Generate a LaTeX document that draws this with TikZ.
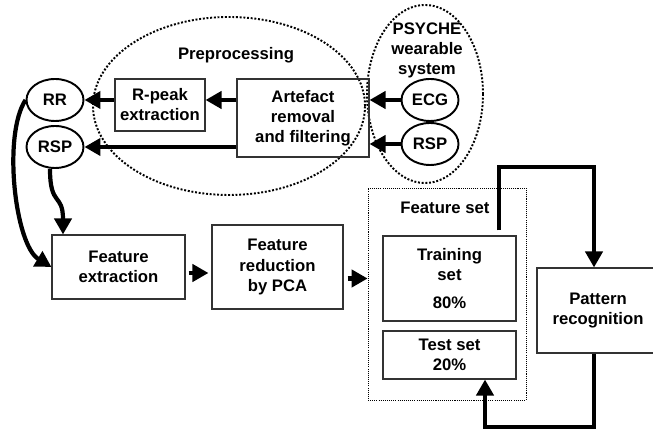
\documentclass[tikz,border=0pt]{standalone}
\usepackage{fontspec}
\setmainfont{Liberation Sans}
\usetikzlibrary{shapes.geometric, arrows.meta}

\begin{document}
\begin{tikzpicture}[
        font=\bfseries\fontsize{9.5}{11.4}\selectfont,
        box/.style={draw=black!80, line width=0.6pt, align=center, inner sep=0pt},
        sig/.style={draw, ellipse, line width=1.1pt, minimum width=1.14cm, minimum height=0.84cm, inner sep=0pt},
        flow/.style={line width=2.4pt, -{Triangle[length=0.32cm, width=0.34cm]}},
        group/.style={line width=1.1pt, dash pattern=on 1.1pt off 1pt}
    ]
        \useasboundingbox (0, 0) rectangle (13.06, 8.70);

        \coordinate (pre) at (4.58, 6.58);
        \coordinate (psy) at (8.50, 6.82);
        \coordinate (loopT) at (11.88, 5.36);
        \coordinate (loopB) at (11.88, 0.16);

        \draw[group] (pre) ellipse [x radius=2.72, y radius=1.78];
        \draw[group] (psy) ellipse [x radius=1.16, y radius=1.78];

        \node (pretext) at (4.72, 7.60) {Preprocessing};
        \node[align=center] (psytext) at (8.54, 7.70) {PSYCHE\\wearable\\system};

        \node[sig] (ecg)  at (8.60, 6.70) {ECG};
        \node[sig] (rspr) at (8.60, 5.82) {RSP};
        \node[sig] (rr)   at (1.10, 6.70) {RR};
        \node[sig] (rspl) at (1.10, 5.76) {RSP};

        \node[box, minimum width=1.80cm, minimum height=1.04cm] (rpeak) at (3.20, 6.60) {R-peak\\extraction};
        \node[box, minimum width=2.64cm, minimum height=1.56cm] (artf) at (6.06, 6.34) {Artefact\\removal\\and filtering};

        \node[box, minimum width=2.66cm, minimum height=1.28cm] (fext) at (2.37, 3.36) {Feature\\extraction};
        \node[box, minimum width=2.62cm, minimum height=1.68cm] (fred) at (5.55, 3.36) {Feature\\reduction\\by PCA};

        \node[draw, line width=0.4pt, dash pattern=on 0.6pt off 0.6pt, minimum width=3.16cm, minimum height=4.24cm] (fset) at (8.94, 2.82) {};
        \node (fsettext) at (8.90, 4.54) {Feature set};
        \node[box, minimum width=2.66cm, minimum height=1.70cm] (train) at (8.99, 3.13) {Training\\set\\[0.16cm]80\%};
        \node[box, minimum width=2.66cm, minimum height=0.96cm] (test) at (8.99, 1.60) {Test set\\20\%};
        \node[box, minimum width=2.44cm, minimum height=1.70cm] (pat) at (11.96, 2.49) {Pattern\\recognition};

        \draw[flow] (ecg.west) -- (ecg.west -| artf.east);
        \draw[flow] (rspr.west) -- (rspr.west -| artf.east);
        \draw[flow] (artf.west |- rr.center) -- (rpeak.east |- rr.center);
        \draw[flow] (rpeak.west |- rr.center) -- (rr.east);
        \draw[flow] (artf.west |- rspl.center) -- (rspl.east);

        \draw[flow] (rr.west) .. controls (0.05, 6.0) and (0.3, 3.8) .. (fext.west);
        \draw[flow] ([xshift=-0.1cm]rspl.south) .. controls (1.0, 4.55) and (1.26, 4.85) .. ([xshift=-1.11cm]fext.north);

        \draw[flow] ([yshift=-0.12cm, xshift=0.06cm]fext.east) -- ([yshift=-0.12cm, xshift=-0.06cm]fext.east -| fred.west);
        \draw[flow] ([xshift=0.08cm]fred.east |- train.center) -- (fset.west |- train.center);

        \draw[flow] ([xshift=0.99cm, yshift=0.1cm]train.north) |- (loopT) -- (loopT |- pat.north);
        \draw[flow] (loopT |- pat.south) -- (loopB) -| ([xshift=0.71cm]test.south);
    \end{tikzpicture}
\end{document}
